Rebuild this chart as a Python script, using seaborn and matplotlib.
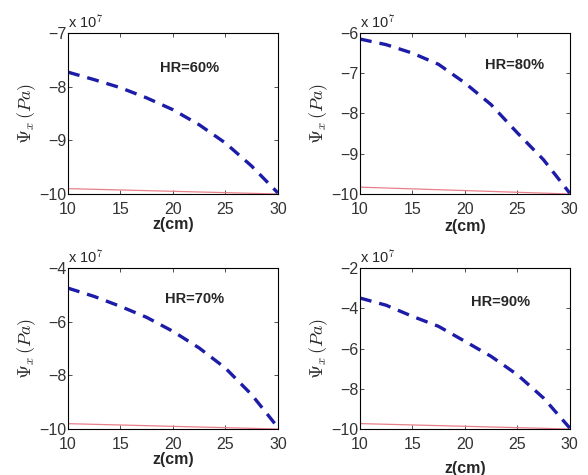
import numpy as np
import pandas as pd
import seaborn as sns
import matplotlib.pyplot as plt

# depth values (cm)
z = [10, 12.5, 15, 17.5, 20, 22.5, 25, 27.5, 30]

# blue dashed curves (x 1e7 Pa)
psi_60 = [-7.73, -7.87, -8.02, -8.21, -8.43, -8.71, -9.05, -9.48, -9.98]
psi_80 = [-6.15, -6.29, -6.50, -6.78, -7.24, -7.78, -8.48, -9.15, -9.98]
psi_70 = [-4.75, -5.06, -5.43, -5.84, -6.36, -6.98, -7.73, -8.72, -9.94]
psi_90 = [-3.49, -3.85, -4.40, -4.90, -5.64, -6.39, -7.30, -8.46, -9.95]

# red reference lines
z_ref = [10, 30]
ref_60 = [-9.90, -10.0]
ref_80 = [-9.83, -10.0]
ref_70 = [-9.80, -10.0]
ref_90 = [-9.73, -10.0]

labels = ["HR=60%", "HR=80%", "HR=70%", "HR=90%"]
ylims = [(-10, -7), (-10, -6), (-10, -4), (-10, -2)]
yticks = [[-10, -9, -8, -7], [-10, -9, -8, -7, -6], [-10, -8, -6, -4], [-10, -8, -6, -4, -2]]
curves = [psi_60, psi_80, psi_70, psi_90]
refs = [ref_60, ref_80, ref_70, ref_90]
text_pos = [(0.44, 0.78), (0.595, 0.80), (0.46, 0.81), (0.53, 0.79)]
xlabel_pads = [0, 1, 0, 6]

sns.set_style("ticks")
plt.rcParams['font.family'] = ['Liberation Sans', 'DejaVu Sans']
plt.rcParams['mathtext.fontset'] = 'cm'

fig = plt.figure(figsize=(5.88, 4.75), dpi=100)
rects = [
    [0.1156, 0.5916, 0.357, 0.339],
    [0.612, 0.5916, 0.357, 0.339],
    [0.1156, 0.0968, 0.357, 0.339],
    [0.612, 0.0968, 0.357, 0.339],
]

for i in range(4):
    ax = fig.add_axes(rects[i])
    df = pd.DataFrame({"z": z, "psi": curves[i]})
    dr = pd.DataFrame({"z": z_ref, "psi": refs[i]})
    sns.lineplot(data=dr, x="z", y="psi", ax=ax, color="#e8808a", linewidth=0.9)
    sns.lineplot(data=df, x="z", y="psi", ax=ax, color="#1c1ca8", linewidth=2.4,
                 linestyle=(0, (3.6, 2.4)))
    ax.set_xlim(10, 30)
    ax.set_ylim(*ylims[i])
    ax.set_xticks([10, 15, 20, 25, 30])
    ax.set_yticks(yticks[i])
    ax.set_yticklabels([str(t).replace("-", "\u2212") for t in yticks[i]])
    ax.tick_params(direction="in", top=True, right=True, length=3, width=0.6,
                   labelsize=11.5, colors="#333333")
    ax.tick_params(axis="x", pad=6)
    ax.tick_params(axis="y", pad=1)
    for s in ax.spines.values():
        s.set_linewidth(0.8)
        s.set_color("black")
    ax.set_xlabel("z(cm)", fontsize=11.5, fontweight="bold", labelpad=xlabel_pads[i])
    ax.set_ylabel(r"$\Psi_x\,(Pa)$", fontsize=13, labelpad=1)
    ax.text(0.0, 1.03, r"x 10$^7$", transform=ax.transAxes, fontsize=10.5)
    ax.text(text_pos[i][0], text_pos[i][1], labels[i], transform=ax.transAxes,
            fontsize=10.5, fontweight="bold", va="center")

plt.savefig("out.png", dpi=100)
